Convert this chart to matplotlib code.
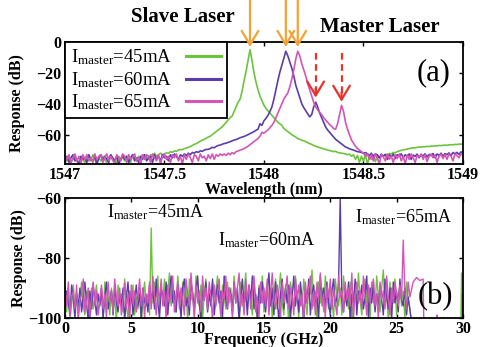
import numpy as np
import matplotlib.pyplot as plt
from matplotlib.ticker import FormatStrFormatter

plt.rcParams['font.family'] = ['Liberation Serif', 'DejaVu Serif']
plt.rcParams['mathtext.default'] = 'regular'

# ---- data (a): optical spectra, response in dB, 0.01 nm grid 1547..1549 nm
wl_first = 1547.0
wl_step = 0.01

spec_45 = [-75, -77, -74, -78, -76, -73, -77, -79, -75, -76,
           -78, -74, -76, -77, -73, -76, -79, -75, -77, -74,
           -76, -78, -75, -73, -77, -76, -79, -74, -76, -75,
           -77, -74, -76, -78, -73, -75, -77, -74, -76, -73,
           -75, -74, -76, -73, -74, -72, -74, -73, -72, -73,
           -72.5, -71.8, -72, -71, -71.5, -70.5, -70.8, -70, -69.6, -69.8,
           -69, -68.6, -68.2, -67.7, -67, -66.3, -65.8, -65, -64.2, -63.6,
           -63, -62.3, -61.6, -61, -60, -59, -58, -57, -56, -55,
           -53.5, -52, -50.5, -49, -48, -45, -42, -39, -37, -32,
           -25, -19, -12, -5, -12, -20, -26, -31, -35, -38,
           -41, -43, -44.5, -46, -47.5, -49, -50.5, -52, -53, -54,
           -56, -57, -58, -59, -60, -60.8, -61.6, -62.5, -63, -63.6,
           -64, -64.6, -65.2, -65.8, -66.3, -67, -67.5, -68, -68.4, -68.8,
           -69.2, -69.5, -70, -70.3, -70.6, -71, -70.8, -71.5, -71.8, -72,
           -72.2, -72.5, -73, -72.6, -74, -73, -76, -73.5, -78, -74,
           -77, -73, -79, -74.5, -76, -73, -77.5, -74, -75, -73.5,
           -74, -72.8, -73.5, -72.2, -72.5, -71.5, -71.8, -71, -70.6, -70.2,
           -69.9, -69.6, -69.4, -69, -68.8, -68.5, -68.6, -68.2, -68, -68.1,
           -67.8, -67.9, -67.6, -67.7, -67.4, -67.5, -67.2, -67.3, -67, -67.1,
           -66.9, -66.8, -66.9, -66.6, -66.5, -66.6, -66.3, -66.4, -66.1, -66.2,
           -66]

spec_60 = [-77, -74, -78, -75, -73, -77, -76, -79, -74, -76,
           -75, -78, -73, -76, -77, -74, -79, -75, -73, -77,
           -74, -76, -78, -73, -75, -77, -74, -79, -76, -73,
           -76, -74, -78, -75, -73, -77, -75, -78, -74, -76,
           -73, -77, -75, -74, -78, -73, -76, -74, -77, -73,
           -75, -74, -77, -73, -75, -72.5, -74, -76, -73, -74,
           -72.5, -73.5, -72, -73, -71.5, -72, -71, -71.5, -70.5, -70.8,
           -70, -69.6, -69.5, -69, -68.2, -68.5, -67.6, -67, -66.8, -66.2,
           -65.8, -65.5, -65, -64.6, -64, -63.5, -63.2, -62.6, -62, -61.6,
           -61.2, -60.6, -60, -59.3, -58.7, -58, -57.2, -56.5, -53, -54,
           -51, -49.5, -47.5, -45, -42, -37, -31, -25, -19.5, -15,
           -10.5, -6, -9, -13, -17, -22, -28, -32, -36, -40,
           -42.5, -44.5, -46.5, -48.5, -47, -42, -39, -42, -46, -49,
           -52, -55, -57, -58.5, -60, -61.5, -63, -64, -65, -66,
           -67, -68, -68.5, -69.2, -69.6, -70, -70.5, -71, -71.2, -71.5,
           -72, -71.6, -72.4, -73.5, -72, -74.5, -72.5, -73, -75, -72.6,
           -74, -72.8, -76, -73, -74.5, -72.5, -75.5, -73, -74, -72.4,
           -75, -73, -74.2, -72.5, -76, -73.2, -74, -72.6, -75, -73,
           -73.8, -72.4, -74.5, -72.8, -73.6, -72.2, -75, -72.5, -73.5, -72,
           -74, -72.3, -73, -71.8, -73.6, -71.6, -72.4, -71.5, -72.8, -71.2,
           -71.5]

spec_65 = [-74, -76, -73, -78, -75, -72.5, -77, -74, -79, -73,
           -76, -73, -77, -75, -78, -72.5, -76, -74, -73, -78,
           -75, -72.5, -77, -74, -76, -79, -73, -75, -77, -72.5,
           -74, -78, -73, -76, -74.5, -72.5, -77, -75, -79, -73,
           -76, -73, -74, -78, -72.5, -75, -77, -73, -79, -74,
           -72.5, -76, -74, -78, -73, -75, -72.5, -77, -74, -79,
           -73, -76, -72.5, -75, -78, -73, -74, -77, -72.5, -75,
           -74, -77, -73, -75.5, -72.5, -76, -73, -74, -72.5, -73.5,
           -72.5, -73.5, -72, -73, -71.6, -72.4, -71, -70.6, -70, -69.6,
           -69, -68.3, -67.5, -66.5, -65.5, -64.5, -63.5, -62.5, -61, -58.5,
           -59, -58, -57, -55.5, -54, -52, -49, -46, -43, -40,
           -37, -35, -33, -29, -24, -18, -11, -6, -9, -14,
           -18, -22, -27, -31, -35, -39, -42, -44, -45.5, -47,
           -49, -50.5, -52, -53.5, -54.5, -56, -56.5, -53, -47, -41,
           -45, -52, -56.5, -60, -63.5, -65.5, -67.5, -69, -70, -71,
           -72, -74, -72.5, -76, -73, -77, -72.5, -75, -79, -73,
           -74.5, -77, -72.5, -76, -74, -78, -73, -75.5, -72.5, -77,
           -74, -79, -73, -76, -72.5, -75, -78, -73.5, -74.5, -72.5,
           -76, -73, -77.5, -74, -72.5, -75, -73, -78, -74, -72.5,
           -75.5, -73, -76, -72.5, -74, -77, -72.5, -73.5, -75, -72.5,
           -73]

# peaks marked by arrows (nm)
slave_peaks = [1547.93, 1548.11, 1548.17]
master_peaks = [1548.26, 1548.39]
master_tips = [-36, -38.7]

# ---- data (b): RF spectra, response in dB, 0.125 GHz grid 0..26 GHz
f_step = 0.125
rf_45 = [-93, -98, -90, -101, -95, -89, -97, -92, -100, -94,
         -88, -96, -99, -91, -94, -102, -90, -97, -93, -89,
         -98, -95, -91, -100, -88, -96, -93, -99, -90, -97,
         -94, -101, -89, -95, -92, -98, -87, -96, -100, -91,
         -95, -89, -99, -93, -97, -90, -102, -94, -88, -96,
         -92, -99, -70, -95, -88, -93, -86, -97, -90, -94,
         -87, -99, -91, -85, -96, -89, -93, -98, -86, -92,
         -97, -88, -95, -90, -101, -87, -94, -91, -99, -86,
         -93, -96, -89, -100, -92, -87, -97, -90, -95, -88,
         -98, -91, -86, -94, -100, -89, -93, -97, -88, -95,
         -90, -99, -86, -94, -91, -102, -88, -96, -92, -85,
         -97, -90, -94, -99, -87, -93, -101, -89, -95, -86,
         -98, -92, -88, -96, -90, -100, -93, -87, -97, -91,
         -85, -95, -99, -89, -94, -102, -88, -92, -97, -86,
         -93, -100, -90, -96, -87, -94, -99, -89, -92, -84,
         -96, -91, -101, -88, -95, -90, -98, -86, -93, -97,
         -89, -94, -100, -87, -92, -96, -90, -99, -86, -95,
         -91, -97, -88, -102, -93, -89, -96, -85, -94, -99,
         -90, -87, -95, -92, -100, -88, -94, -97, -86, -93,
         -98, -90, -84, -96, -91, -101, -88, -95, -92, -87,
         -99, -93, -89, -96, -91, -100, -88, -94, -97]
rf_60 = [-97, -91, -95, -99, -89, -94, -100, -92, -96, -90,
         -98, -93, -88, -95, -101, -91, -97, -89, -94, -99,
         -92, -96, -90, -100, -93, -88, -97, -94, -91, -99,
         -89, -95, -98, -92, -96, -90, -101, -93, -88, -97,
         -91, -99, -94, -89, -96, -92, -100, -90, -95, -93,
         -98, -89, -94, -91, -97, -87, -95, -100, -90, -93,
         -96, -88, -99, -92, -86, -95, -91, -98, -89, -94,
         -100, -90, -87, -96, -93, -99, -88, -92, -97, -91,
         -86, -95, -101, -90, -94, -88, -98, -92, -96, -87,
         -99, -93, -89, -95, -91, -100, -86, -94, -97, -90,
         -92, -98, -88, -95, -90, -101, -93, -87, -96, -91,
         -99, -89, -94, -86, -97, -92, -100, -90, -95, -88,
         -93, -98, -91, -85, -96, -90, -99, -88, -94, -101,
         -92, -87, -97, -90, -95, -89, -100, -93, -86, -96,
         -91, -98, -88, -94, -102, -90, -95, -87, -99, -92,
         -89, -96, -93, -100, -86, -94, -90, -97, -88, -95,
         -99, -91, -87, -96, -93, -89, -60, -94, -98, -90,
         -96, -88, -101, -92, -95, -87, -99, -91, -94, -89,
         -97, -93, -86, -100, -90, -95, -88, -98, -92, -96,
         -89, -94, -99, -87, -93, -97, -90, -101, -88, -95,
         -91, -98, -87, -94, -96, -90, -99, -93, -97]
rf_65 = [-90, -96, -88, -99, -93, -91, -97, -89, -100, -94,
         -92, -87, -98, -95, -90, -101, -93, -88, -96, -91,
         -99, -94, -89, -97, -92, -100, -88, -95, -91, -98,
         -87, -93, -96, -90, -99, -94, -88, -97, -92, -101,
         -89, -95, -91, -98, -93, -87, -96, -90, -100, -92,
         -95, -88, -97, -86, -93, -99, -90, -94, -87, -96,
         -91, -100, -89, -95, -92, -86, -98, -93, -88, -97,
         -90, -94, -99, -87, -92, -96, -85, -93, -100, -89,
         -95, -91, -98, -86, -94, -90, -97, -88, -93, -101,
         -89, -96, -92, -87, -99, -91, -94, -86, -97, -90,
         -93, -100, -88, -95, -90, -85, -96, -92, -99, -87,
         -94, -89, -97, -91, -86, -98, -93, -100, -88, -95,
         -90, -96, -87, -99, -92, -85, -94, -97, -89, -93,
         -100, -88, -95, -91, -86, -97, -90, -93, -99, -87,
         -94, -89, -96, -92, -101, -88, -95, -90, -86, -97,
         -91, -99, -88, -94, -85, -96, -92, -100, -89, -93,
         -87, -97, -90, -95, -99, -86, -93, -91, -98, -88,
         -94, -90, -96, -85, -100, -92, -88, -95, -91, -97,
         -86, -93, -99, -89, -95, -90, -87, -96, -92, -100,
         -88, -94, -91, -97, -86, -93, -99, -90, -95, -88,
         -92, -96, -89, -94, -74, -91, -97, -88, -93]
# sparse points beyond 26 GHz (mostly below the -100 dB floor)
tail_f_45 = [26.5, 29.8, 29.9, 30.0]
tail_45 = [-115, -115, -85, -115]
tail_f_60 = [26.5, 30.0]
tail_60 = [-115, -115]
tail_f_65 = [26.25, 26.5, 26.75, 27.0, 27.1, 28.0, 28.05, 28.1, 29.9, 29.95, 30.0]
tail_65 = [-88, -86.5, -87.5, -87, -115, -115, -99, -115, -115, -92, -115]

labels = ['45mA', '60mA', '65mA']
colors = ['#6cc43c', '#5a3dab', '#d455b6']
orange = '#f4a233'
red = '#e8332b'

wl = wl_first + wl_step * np.arange(len(spec_45))
f = f_step * np.arange(len(rf_45))

fig = plt.figure(figsize=(4.8, 3.47), dpi=100)
ax1 = fig.add_axes([0.1354, 0.5274, 0.829, 0.3516])
ax2 = fig.add_axes([0.1354, 0.0836, 0.829, 0.3458])

# (a) optical spectrum
for y, lab, c in zip([spec_45, spec_60, spec_65], labels, colors):
    ax1.plot(wl, y, color=c, lw=1.2, label=r'$I_{master}$=' + lab)
ax1.set_xlim(1547, 1549)
ax1.set_ylim(-79, 0)
ax1.set_xticks([1547, 1547.5, 1548, 1548.5, 1549])
ax1.set_yticks([-60, -40, -20, 0])
ax1.xaxis.set_major_formatter(FormatStrFormatter('%g'))
ax1.set_xlabel('Wavelength (nm)', fontsize=11.5, fontweight='bold')
ax1.set_ylabel('Response (dB)', fontsize=11.5, fontweight='bold')
ax1.xaxis.set_label_coords(0.5, -0.215)
ax1.xaxis.label.set_va('center')
ax1.yaxis.set_label_coords(-0.1, 0.5)
ax1.text(1548.85, -20, '(a)', fontsize=22, ha='center', va='center')

leg = ax1.legend(loc='upper left', bbox_to_anchor=(0, 1), borderaxespad=0,
                 markerfirst=False, fontsize=13.5, frameon=True, fancybox=False,
                 borderpad=0.3, labelspacing=0.15, handlelength=1.9,
                 handletextpad=0.75)
frame = leg.get_frame()
frame.set_edgecolor('black')
frame.set_facecolor('white')
frame.set_alpha(1)
frame.set_linewidth(1.3)
leg.set_zorder(10)
for h in leg.get_lines():
    h.set_linewidth(2.2)

# arrows for slave peaks (solid orange) and master peaks (dashed red)
for x in slave_peaks:
    ax1.annotate('', xy=(x, -3.2), xytext=(x, 27), annotation_clip=False,
                 arrowprops=dict(arrowstyle='->,head_length=0.5,head_width=0.3',
                                 color=orange, lw=1.6, mutation_scale=20,
                                 shrinkA=0, shrinkB=0))
for x, tip in zip(master_peaks, master_tips):
    ax1.plot([x, x], [-7, tip + 1], color=red, lw=1.6, ls=(0, (3, 2)),
             clip_on=False)
    ax1.annotate('', xy=(x, tip), xytext=(x, tip + 6),
                 arrowprops=dict(arrowstyle='->,head_length=0.5,head_width=0.3',
                                 color=red, lw=1.6, mutation_scale=20,
                                 shrinkA=0, shrinkB=0))
fig.text(0.381, 0.951, 'Slave Laser', fontsize=15, fontweight='bold',
         ha='center', va='center')
fig.text(0.792, 0.922, 'Master Laser', fontsize=15, fontweight='bold',
         ha='center', va='center')

# (b) RF spectrum
for y, tf, ty, c in zip([rf_45, rf_60, rf_65], [tail_f_45, tail_f_60, tail_f_65],
                        [tail_45, tail_60, tail_65], colors):
    ax2.plot(np.concatenate([f, tf]), np.concatenate([y, ty]), color=c, lw=1.0)
ax2.set_xlim(0, 30)
ax2.set_ylim(-100, -60)
ax2.set_xticks(np.arange(0, 31, 5))
ax2.set_yticks([-100, -80, -60])
ax2.set_xlabel('Frequency (GHz)', fontsize=11.5, fontweight='bold')
ax2.set_ylabel('Response (dB)', fontsize=11.5, fontweight='bold')
ax2.xaxis.set_label_coords(0.5, -0.18)
ax2.xaxis.label.set_va('center')
ax2.yaxis.set_label_coords(-0.095, 0.5)
ax2.text(27.96, -93, '(b)', fontsize=22, ha='center', va='center')
ax2.text(3.17, -66.3, r'$I_{master}$=' + labels[0], fontsize=13, va='baseline')
ax2.text(11.5, -75.7, r'$I_{master}$=' + labels[1], fontsize=13, va='baseline')
ax2.text(21.9, -68, r'$I_{master}$=' + labels[2], fontsize=13, va='baseline')

for ax in (ax1, ax2):
    ax.tick_params(direction='in', top=True, right=True, length=3, width=1,
                   pad=2.5)
    for lab in ax.get_xticklabels() + ax.get_yticklabels():
        lab.set_fontsize(11.5)
        lab.set_fontweight('bold')
    for s in ax.spines.values():
        s.set_linewidth(1.3)

fig.savefig('out.png', dpi=100)
